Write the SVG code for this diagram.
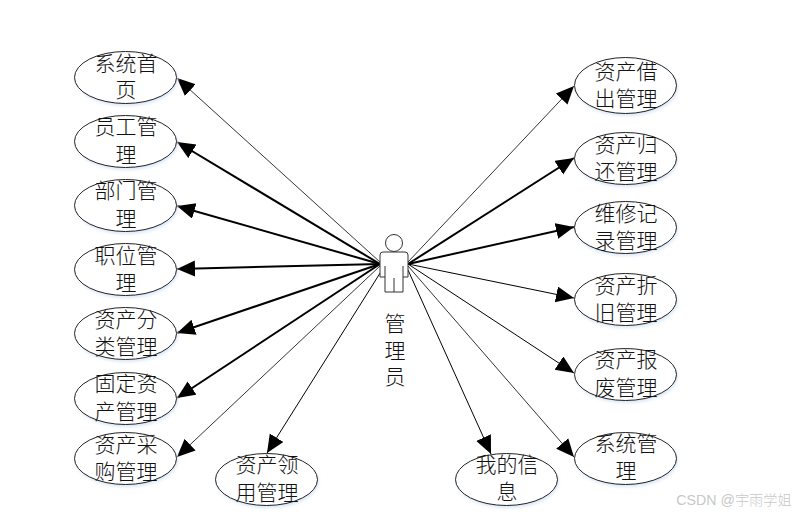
<svg xmlns="http://www.w3.org/2000/svg" width="804" height="516" viewBox="0 0 804 516">
<defs>
<marker id="a" markerUnits="userSpaceOnUse" markerWidth="20" markerHeight="18" refX="18" refY="8" orient="auto"><path d="M0 0L18 8L0 16Z" fill="#000"/></marker>
</defs>
<style>
.n ellipse{fill:#fff;stroke:#222;stroke-width:1;filter:drop-shadow(1px 2px 1.500px #dbe8f8)}
.n text,.l{font-family:"Liberation Serif","Noto Sans CJK SC","Noto Sans CJK JP",serif;font-size:21px;font-weight:300;fill:#111;text-anchor:middle}
.c line{stroke:#000;marker-end:url(#a)}
.t{stroke-width:.8}.b{stroke-width:2}.m{stroke-width:1}
</style>
<rect width="804" height="516" fill="#fff"/>
<g id="connectors" class="c">
<line class="t" x1="380" y1="262" x2="177" y2="78"/>
<line class="b" x1="380" y1="264" x2="177" y2="142"/>
<line class="b" x1="380" y1="264" x2="177" y2="206"/>
<line class="b" x1="380" y1="264" x2="177" y2="269"/>
<line class="b" x1="380" y1="264" x2="177" y2="333"/>
<line class="b" x1="380" y1="264" x2="177" y2="398"/>
<line class="t" x1="380" y1="266" x2="177" y2="457"/>
<line class="m" x1="382" y1="270" x2="267" y2="453"/>
<line class="m" x1="408" y1="270" x2="491" y2="454"/>
<line class="t" x1="408" y1="266" x2="574" y2="457"/>
<line class="m" x1="408" y1="264" x2="574" y2="373"/>
<line class="m" x1="408" y1="264" x2="574" y2="298"/>
<line class="b" x1="408" y1="264" x2="574" y2="227"/>
<line class="b" x1="408" y1="264" x2="574" y2="158"/>
<line class="t" x1="408" y1="262" x2="574" y2="86"/>
</g>
<g id="actor" fill="#fff" stroke="#333" stroke-width="1">
<circle cx="394" cy="243" r="8.500"/>
<path d="M383 252H405Q408 252 408 255V277H403V292H385V277H380V255Q380 252 383 252Z"/>
<path d="M385 266V277M403 266V277M394 278V292"/>
</g>
<text class="l" x="395" y="331">管<tspan x="395" dy="27">理</tspan><tspan x="395" dy="26">员</tspan></text>
<g id="n1" class="n"><ellipse cx="125.500" cy="77.500" rx="51" ry="26"/><text x="126" y="71">系统首<tspan x="126" dy="26">页</tspan></text></g>
<g id="n2" class="n"><ellipse cx="125.500" cy="141.500" rx="51" ry="26"/><text x="126" y="134">员工管<tspan x="126" dy="28">理</tspan></text></g>
<g id="n3" class="n"><ellipse cx="125.500" cy="205.500" rx="51" ry="26"/><text x="126" y="198">部门管<tspan x="126" dy="28">理</tspan></text></g>
<g id="n4" class="n"><ellipse cx="125.500" cy="269.500" rx="51" ry="26"/><text x="126" y="263">职位管<tspan x="126" dy="27">理</tspan></text></g>
<g id="n5" class="n"><ellipse cx="125.500" cy="333.500" rx="51" ry="26"/><text x="126" y="327">资产分<tspan x="126" dy="27">类管理</tspan></text></g>
<g id="n6" class="n"><ellipse cx="125.500" cy="398.500" rx="51" ry="26"/><text x="126" y="391">固定资<tspan x="126" dy="28">产管理</tspan></text></g>
<g id="n7" class="n"><ellipse cx="125.500" cy="458.500" rx="51" ry="26"/><text x="126" y="452">资产采<tspan x="126" dy="27">购管理</tspan></text></g>
<g id="n8" class="n"><ellipse cx="266.500" cy="479.500" rx="51" ry="26"/><text x="267" y="472">资产领<tspan x="267" dy="28">用管理</tspan></text></g>
<g id="n9" class="n"><ellipse cx="506.500" cy="479.500" rx="51" ry="26"/><text x="507" y="472">我的信<tspan x="507" dy="27">息</tspan></text></g>
<g id="n10" class="n"><ellipse cx="625.500" cy="458.500" rx="51" ry="26"/><text x="626" y="451">系统管<tspan x="626" dy="27">理</tspan></text></g>
<g id="n11" class="n"><ellipse cx="625.500" cy="374.500" rx="51" ry="26"/><text x="626" y="367">资产报<tspan x="626" dy="28">废管理</tspan></text></g>
<g id="n12" class="n"><ellipse cx="625.500" cy="299.500" rx="51" ry="26"/><text x="626" y="293">资产折<tspan x="626" dy="27">旧管理</tspan></text></g>
<g id="n13" class="n"><ellipse cx="625.500" cy="227.500" rx="51" ry="26"/><text x="626" y="221">维修记<tspan x="626" dy="27">录管理</tspan></text></g>
<g id="n14" class="n"><ellipse cx="625.500" cy="158.500" rx="51" ry="26"/><text x="626" y="152">资产归<tspan x="626" dy="27">还管理</tspan></text></g>
<g id="n15" class="n"><ellipse cx="625.500" cy="85.500" rx="51" ry="28"/><text x="626" y="79">资产借<tspan x="626" dy="27">出管理</tspan></text></g>
<text x="734" y="505" font-family="Liberation Sans,Noto Sans CJK SC,sans-serif" font-size="14.200" font-weight="300" fill="#c8c8c8" text-anchor="middle">CSDN @宇雨学姐</text>
</svg>
